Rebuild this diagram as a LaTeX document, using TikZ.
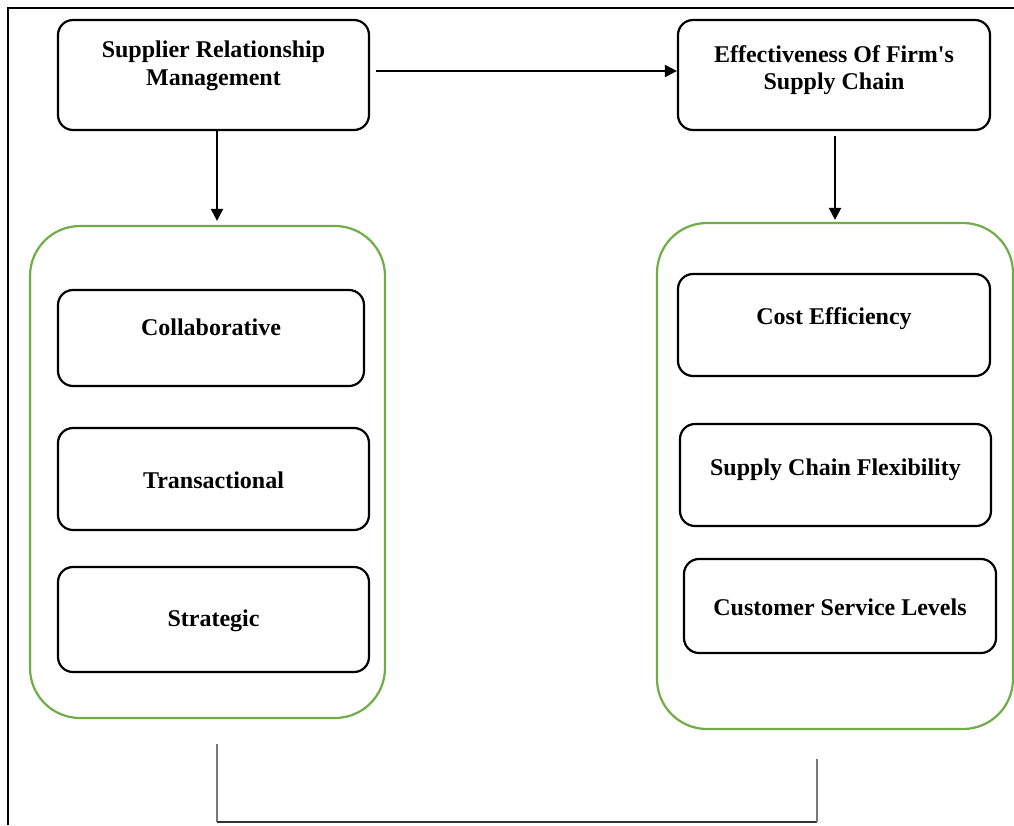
\documentclass[tikz,border=0pt]{standalone}
\usepackage{fontspec}
\setmainfont{Liberation Serif}
\usetikzlibrary{arrows.meta,calc}
\definecolor{groupgreen}{RGB}{112,173,71}
\definecolor{bracketgray}{RGB}{120,120,120}
\begin{document}
\begin{tikzpicture}[x=1pt,y=-1pt,
  every node/.style={font=\bfseries\fontsize{24}{27.5}\selectfont},
  box/.style={draw=black,line width=2.2pt,rounded corners=15pt,fill=white,inner sep=0pt},
  group/.style={draw=groupgreen,line width=2.2pt,rounded corners=50pt,inner sep=0pt},
  lbl/.style={align=center,inner sep=0pt},
  arr/.style={draw=black,line width=2.2pt,-{Triangle[length=12pt,width=12pt]}},
  frame/.style={draw=black,line width=1.4pt},
  bracket/.style={line width=1.5pt}]
\useasboundingbox (0,0) rectangle (1014,825);

% outer frame (left and top edges only)
\draw[frame] (8,825) -- (8,8) -- (1014,8);

% green group containers
\node[group,minimum width=355pt,minimum height=492pt] (lgrp) at (207.5,472) {};
\node[group,minimum width=356pt,minimum height=506pt] (rgrp) at (835,476) {};

% top-level boxes
\node[box,minimum width=311pt,minimum height=110pt,
      label={[lbl,yshift=9pt]center:Supplier Relationship\\Management}] (srm) at (213.5,75) {};
\node[box,minimum width=312pt,minimum height=110pt,
      label={[lbl,yshift=5pt]center:Effectiveness Of Firm\textquotesingle s\\Supply Chain}] (eff) at (834,75) {};

% supplier relationship types
\node[box,minimum width=306pt,minimum height=96pt,
      label={[lbl,yshift=11pt]center:Collaborative}] (col) at (211,338) {};
\node[box,minimum width=311pt,minimum height=102pt,
      label={[lbl,yshift=-1pt]center:Transactional}] (tra) at (213.5,479) {};
\node[box,minimum width=311pt,minimum height=105pt,
      label={[lbl,yshift=-1pt]center:Strategic}] (str) at (213.5,619.5) {};

% supply chain effectiveness measures
\node[box,minimum width=312pt,minimum height=102pt,
      label={[lbl,yshift=6pt]center:Cost Efficiency}] (cost) at (834,325) {};
\node[box,minimum width=311pt,minimum height=102pt,
      label={[lbl,yshift=5pt]center:Supply Chain Flexibility}] (flex) at (835.5,475) {};
\node[box,minimum width=312pt,minimum height=94pt,
      label={[lbl,yshift=-1pt]center:Customer Service Levels}] (cust) at (840,606) {};

% arrows
\draw[arr] ($(srm.east)+(6,-4)$) -- ($(eff.west)+(0,-4)$);
\draw[arr] ($(srm.south)+(3.5,0)$) -- ($(lgrp.north)+(9.5,-4)$);
\draw[arr] ($(eff.south)+(1,5)$) -- ($(rgrp.north)+(0,-2)$);

% bracket joining the two groups underneath
\coordinate (lb) at (217,744);
\coordinate (rb) at (817,759);
\coordinate (base) at (0,822);
\draw[bracket,draw=bracketgray] (lb) -- (lb |- base);
\draw[bracket,draw=black!80] (lb |- base) -- (rb |- base);
\draw[bracket,draw=bracketgray] (rb |- base) -- (rb);
\end{tikzpicture}
\end{document}
